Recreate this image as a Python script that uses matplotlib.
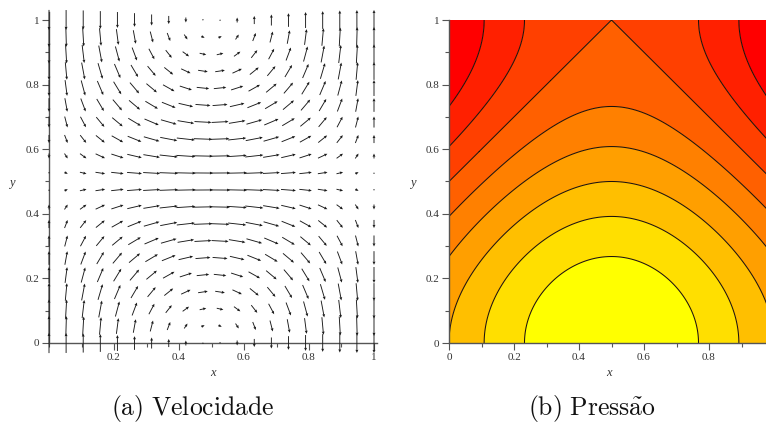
import numpy as np
import matplotlib
matplotlib.use("Agg")
import matplotlib.pyplot as plt
from matplotlib.ticker import FixedLocator, MultipleLocator

# ---------------- data ----------------
grid_n = 20                       # Maple fieldplot grid [20, 20] on [0,1]x[0,1]
x_major = [0.2, 0.4, 0.6, 0.8, 1.0]
x_major_labels = ["0.2", "0.4", "0.6", "0.8", "1"]
x_major_r = [0.0, 0.2, 0.4, 0.6, 0.8]
x_major_r_labels = ["0", "0.2", "0.4", "0.6", "0.8"]
y_major = [0.0, 0.2, 0.4, 0.6, 0.8, 1.0]
y_major_labels = ["0", "0.2", "0.4", "0.6", "0.8", "1"]
# pressure contour levels (evenly spaced, 9 bands)
contour_levels = [-2.0, -5/3, -4/3, -1.0, -2/3, -1/3, 0.0, 1/3, 2/3, 1.0]
band_colors = ["#ffff00", "#ffdf00", "#ffbf00", "#ff9f00", "#ff8000",
               "#ff6000", "#ff4000", "#ff2000", "#ff0000"]
caption_a = r"$\mathrm{(a)\ Velocidade}$"
caption_b = r"$\mathrm{(b)\ Press\tilde{a}o}$"

# velocity and pressure fields shown in the two panels
def velocity(x, y):
    return np.sin(np.pi * x) * np.sin(np.pi * y), np.cos(np.pi * x) * np.cos(np.pi * y)

def pressure(x, y):
    return -np.sin(np.pi * x) - np.cos(np.pi * y)

# ---------------- figure ----------------
plt.rcParams["mathtext.fontset"] = "cm"
plt.rcParams["contour.negative_linestyle"] = "solid"
W, H = 766, 423
fig = plt.figure(figsize=(W / 100, H / 100), dpi=100)

def axes_px(x0_px, xscale, xlim, y0_px, yscale, ylim):
    left = x0_px + xlim[0] * xscale
    right = x0_px + xlim[1] * xscale
    bottom = y0_px - ylim[0] * yscale
    top = y0_px - ylim[1] * yscale
    return [left / W, (H - bottom) / H, (right - left) / W, (bottom - top) / H]

tick_font = dict(family="Liberation Serif", size=8, color="#333333")
spine_col = "#555555"

def style_axes(ax, xticks, xlabels, yticks, ylabels, xb, yb):
    for s in ["top", "right"]:
        ax.spines[s].set_visible(False)
    for s in ["left", "bottom"]:
        ax.spines[s].set_position(("data", 0))
        ax.spines[s].set_color(spine_col)
        ax.spines[s].set_linewidth(1.0)
    ax.spines["bottom"].set_bounds(*xb)
    ax.spines["left"].set_bounds(*yb)
    ax.xaxis.set_major_locator(FixedLocator(xticks))
    ax.set_xticklabels(xlabels, fontdict=tick_font)
    ax.yaxis.set_major_locator(FixedLocator(yticks))
    ax.set_yticklabels(ylabels, fontdict=tick_font)
    ax.xaxis.set_minor_locator(MultipleLocator(0.1))
    ax.yaxis.set_minor_locator(MultipleLocator(0.1))
    ax.tick_params(which="major", direction="out", length=5, width=0.8, color=spine_col, pad=2)
    ax.tick_params(which="minor", direction="out", length=3, width=0.8, color=spine_col)
    ax.patch.set_visible(False)

# left panel: velocity field
xlim_l, ylim_l = (-0.04, 1.04), (-0.05, 1.04)
axL = fig.add_axes(axes_px(49, 325, xlim_l, 343, 323, ylim_l))
gx = np.linspace(0, 1, grid_n)
GX, GY = np.meshgrid(gx, gx)
U, V = velocity(GX, GY)
axL.quiver(GX, GY, U, V, pivot="mid", angles="xy", scale_units="xy", scale=16,
           width=0.0026, headwidth=3.2, headlength=3.5, headaxislength=3.2,
           color="#1a1a1a", zorder=3)
axL.set_xlim(*xlim_l)
axL.set_ylim(*ylim_l)
style_axes(axL, x_major, x_major_labels, y_major, y_major_labels, (0, 1.01), (0, 1.025))

# right panel: pressure contours
xlim_r, ylim_r = (0.0, 1.0), (0.0, 1.0)
axR = fig.add_axes(axes_px(449, 325, xlim_r, 343, 323, ylim_r))
fx = np.linspace(0, 1, 401)
FX, FY = np.meshgrid(fx, fx)
P = pressure(FX, FY)
axR.contourf(FX, FY, P, levels=contour_levels, colors=band_colors, antialiased=True)
axR.contour(FX, FY, P, levels=contour_levels[1:-1], colors="#1e120a",
            linewidths=0.75, linestyles="solid")
axR.set_xlim(*xlim_r)
axR.set_ylim(*ylim_r)
style_axes(axR, x_major_r, x_major_r_labels, y_major, y_major_labels, (0, 1), (0, 1))

# axis labels
lab_font = dict(family="Liberation Serif", style="italic", size=9, color="#333333")
fig.text(213 / W, 1 - 373 / H, "x", ha="center", va="center", **lab_font)
fig.text(12 / W, 1 - 183 / H, "y", ha="center", va="center", **lab_font)
fig.text(609 / W, 1 - 373 / H, "x", ha="center", va="center", **lab_font)
fig.text(413 / W, 1 - 183 / H, "y", ha="center", va="center", **lab_font)

# captions
fig.text(193 / W, 1 - 408 / H, caption_a, ha="center", va="center", size=18.5, color="#111111")
fig.text(592 / W, 1 - 408 / H, caption_b, ha="center", va="center", size=18.5, color="#111111")

fig.savefig("out.png", dpi=100, facecolor="white")
